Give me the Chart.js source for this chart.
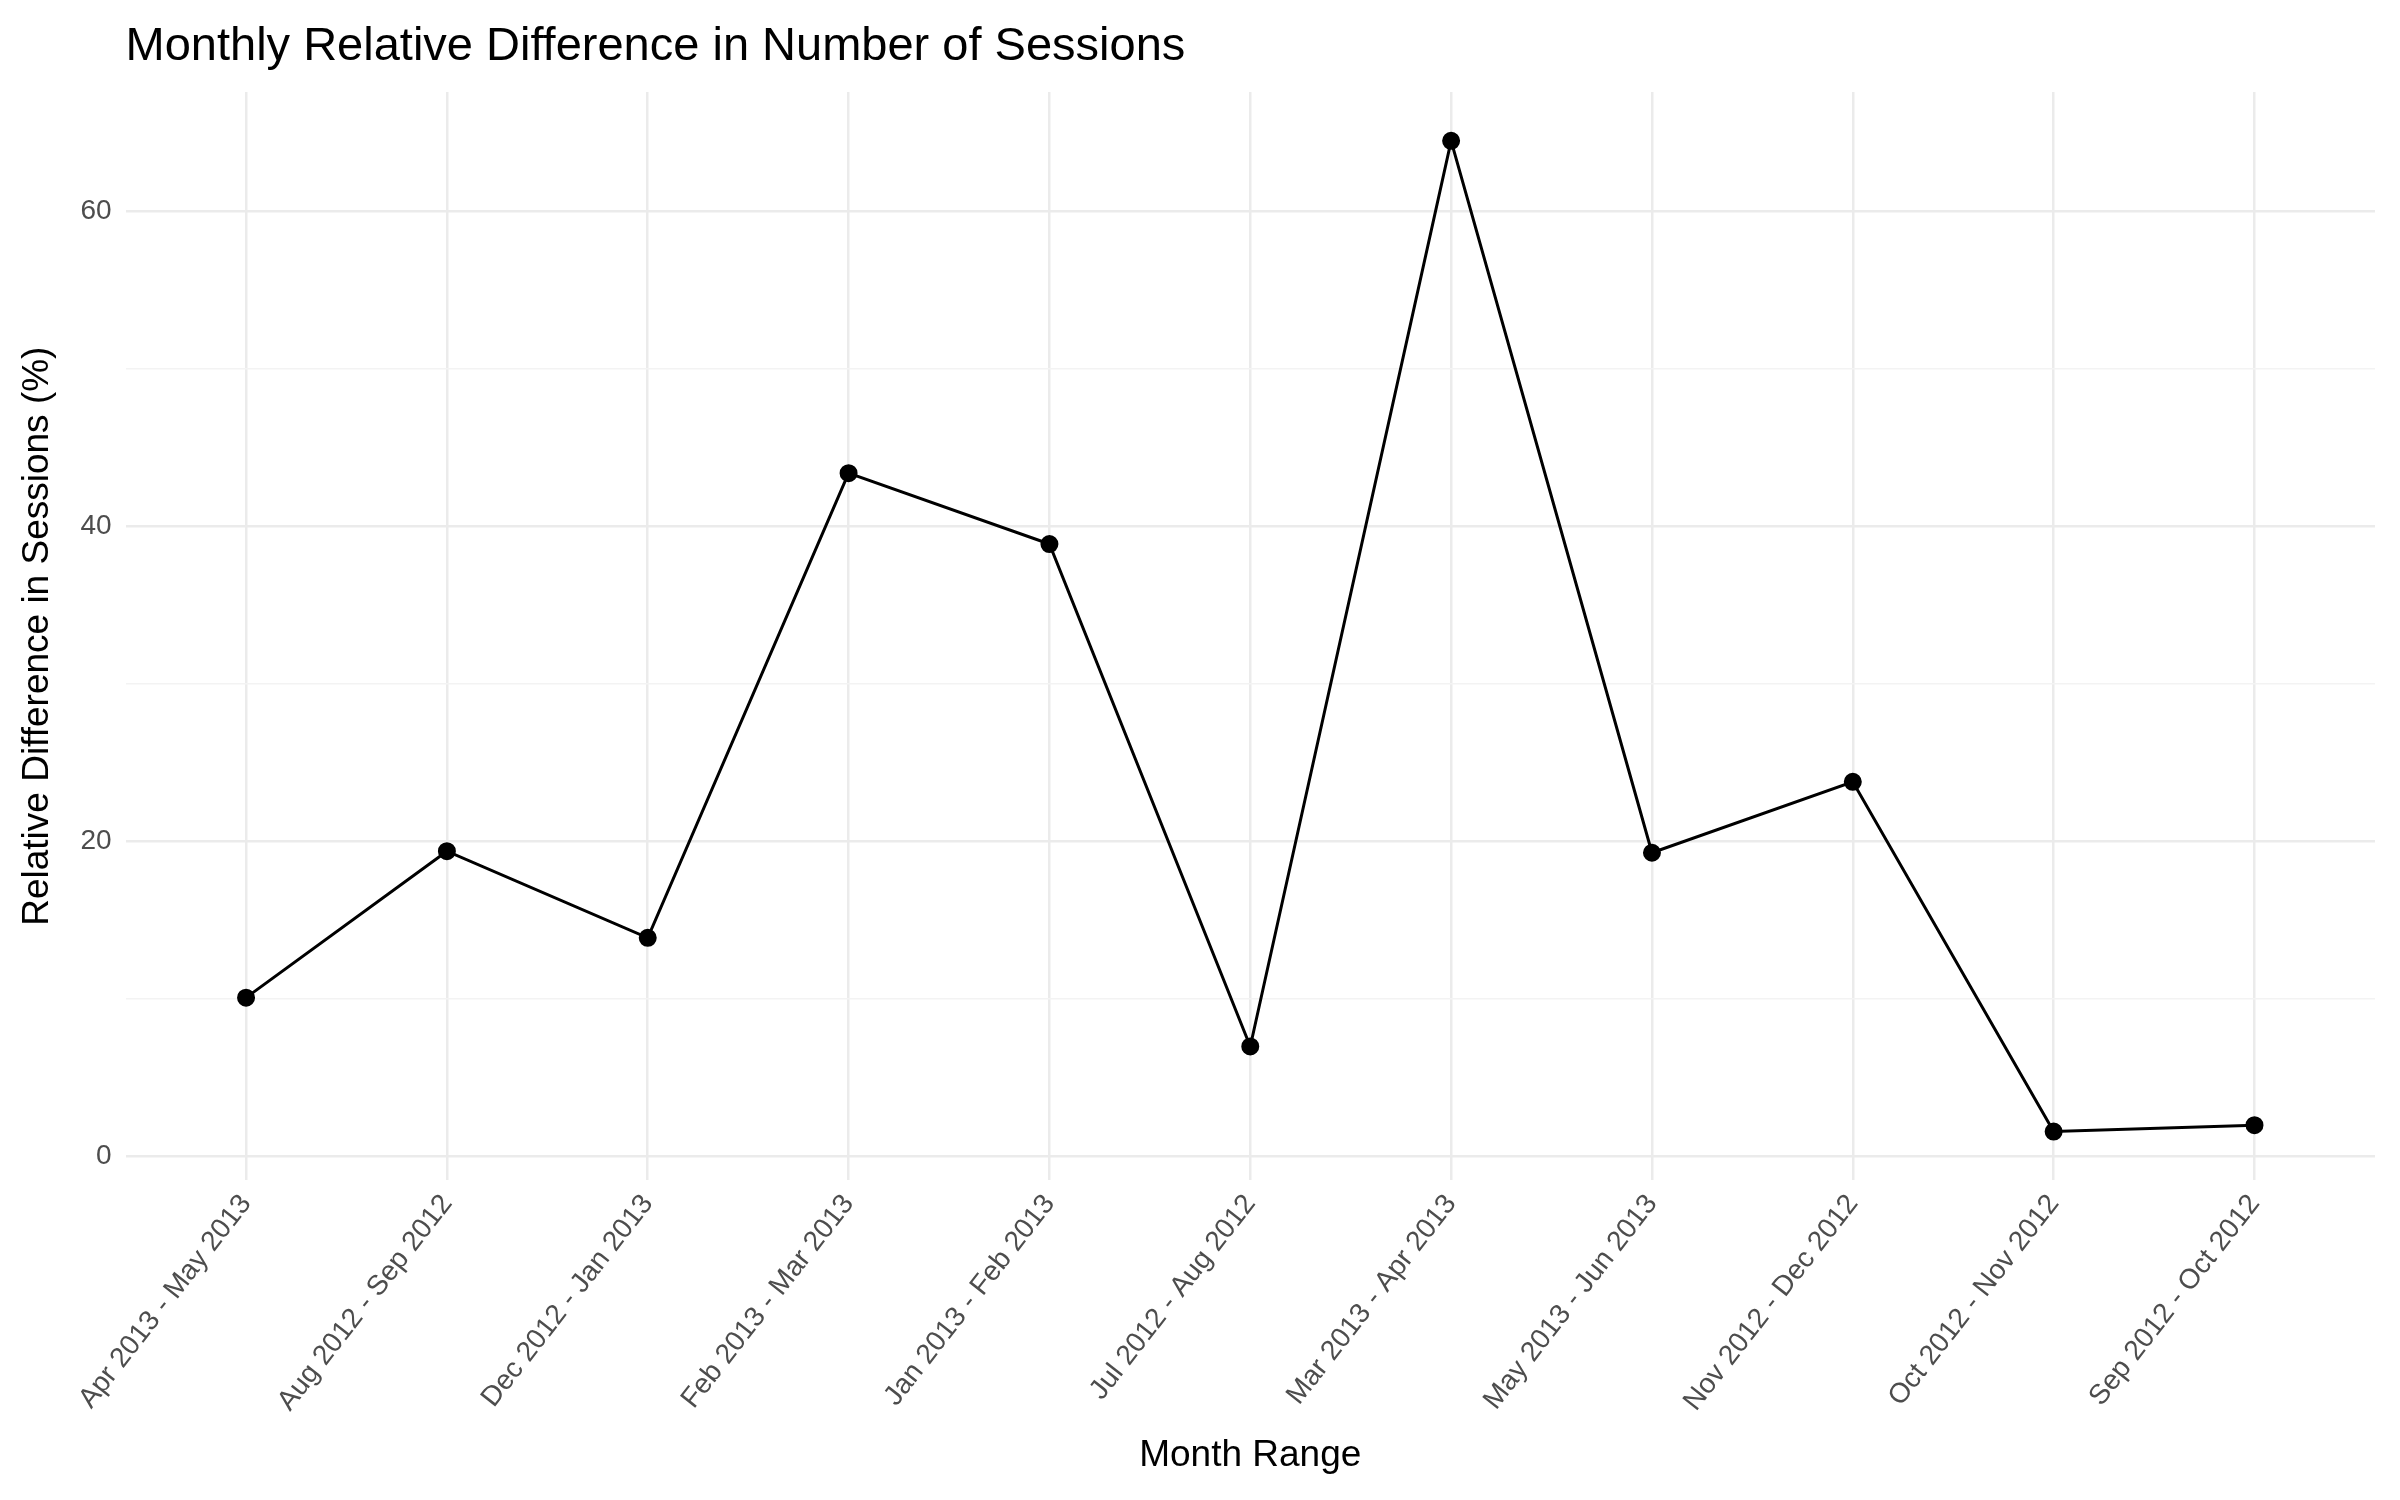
<!DOCTYPE html>
<html><head><meta charset="utf-8">
<script src="https://cdn.jsdelivr.net/npm/chart.js@4"></script>
<style>body{margin:0;background:#fff}</style></head>
<body><canvas id="c" width="2400" height="1500"></canvas>
<script>
const categories=["Apr 2013 - May 2013","Aug 2012 - Sep 2012","Dec 2012 - Jan 2013","Feb 2013 - Mar 2013","Jan 2013 - Feb 2013","Jul 2012 - Aug 2012","Mar 2013 - Apr 2013","May 2013 - Jun 2013","Nov 2012 - Dec 2012","Oct 2012 - Nov 2012","Sep 2012 - Oct 2012"];
const values=[10.1,19.4,13.9,43.4,38.9,7.0,64.5,19.3,23.8,1.6,2.0];
const yTicks=[0,20,40,60];
const titleText='Monthly Relative Difference in Number of Sessions';
const font="'Liberation Sans', Arial, sans-serif";
const titlePlugin={id:'tp',afterDraw(ch){const c=ch.ctx;c.save();c.fillStyle='#000';c.font="47px "+font;c.textBaseline='alphabetic';c.textAlign='left';c.fillText(titleText,ch.chartArea.left,60);c.restore();}};
new Chart(document.getElementById('c'),{
 type:'line',
 plugins:[titlePlugin],
 data:{datasets:[{data:values.map((v,i)=>({x:i,y:v})),borderColor:'#000',backgroundColor:'#000',borderWidth:3,pointRadius:7.5,pointHoverRadius:7.5,tension:0}]},
 options:{responsive:false,devicePixelRatio:1,animation:false,
  layout:{padding:{left:12,right:25,top:92,bottom:18}},
  plugins:{legend:{display:false},tooltip:{enabled:false},title:{display:false}},
  scales:{
   x:{type:'linear',min:-0.6,max:10.6,afterBuildTicks:s=>{s.ticks=categories.map((c,i)=>({value:i}));},
    ticks:{autoSkip:false,minRotation:52,maxRotation:52,color:'#4d4d4d',font:{family:font,size:28},padding:8,callback:v=>categories[v]},
    grid:{color:'#ebebeb',lineWidth:2.5,drawTicks:false},border:{display:false},
    title:{display:true,text:'Month Range',color:'#000',font:{family:font,size:37},padding:{top:8}}},
   y:{min:-1.5,max:67.6,afterBuildTicks:s=>{s.ticks=[0,10,20,30,40,50,60].map(v=>({value:v}));},
    ticks:{color:'#4d4d4d',font:{family:font,size:28},padding:14,callback:v=>yTicks.includes(v)?String(v):''},
    grid:{color:c=>yTicks.includes(c.tick&&c.tick.value)?'#ebebeb':'#f3f3f3',lineWidth:c=>yTicks.includes(c.tick&&c.tick.value)?2.5:1.5,drawTicks:false},border:{display:false},
    title:{display:true,text:'Relative Difference in Sessions (%)',color:'#000',font:{family:font,size:37},padding:{bottom:6}}}
  }}
});
</script></body></html>
